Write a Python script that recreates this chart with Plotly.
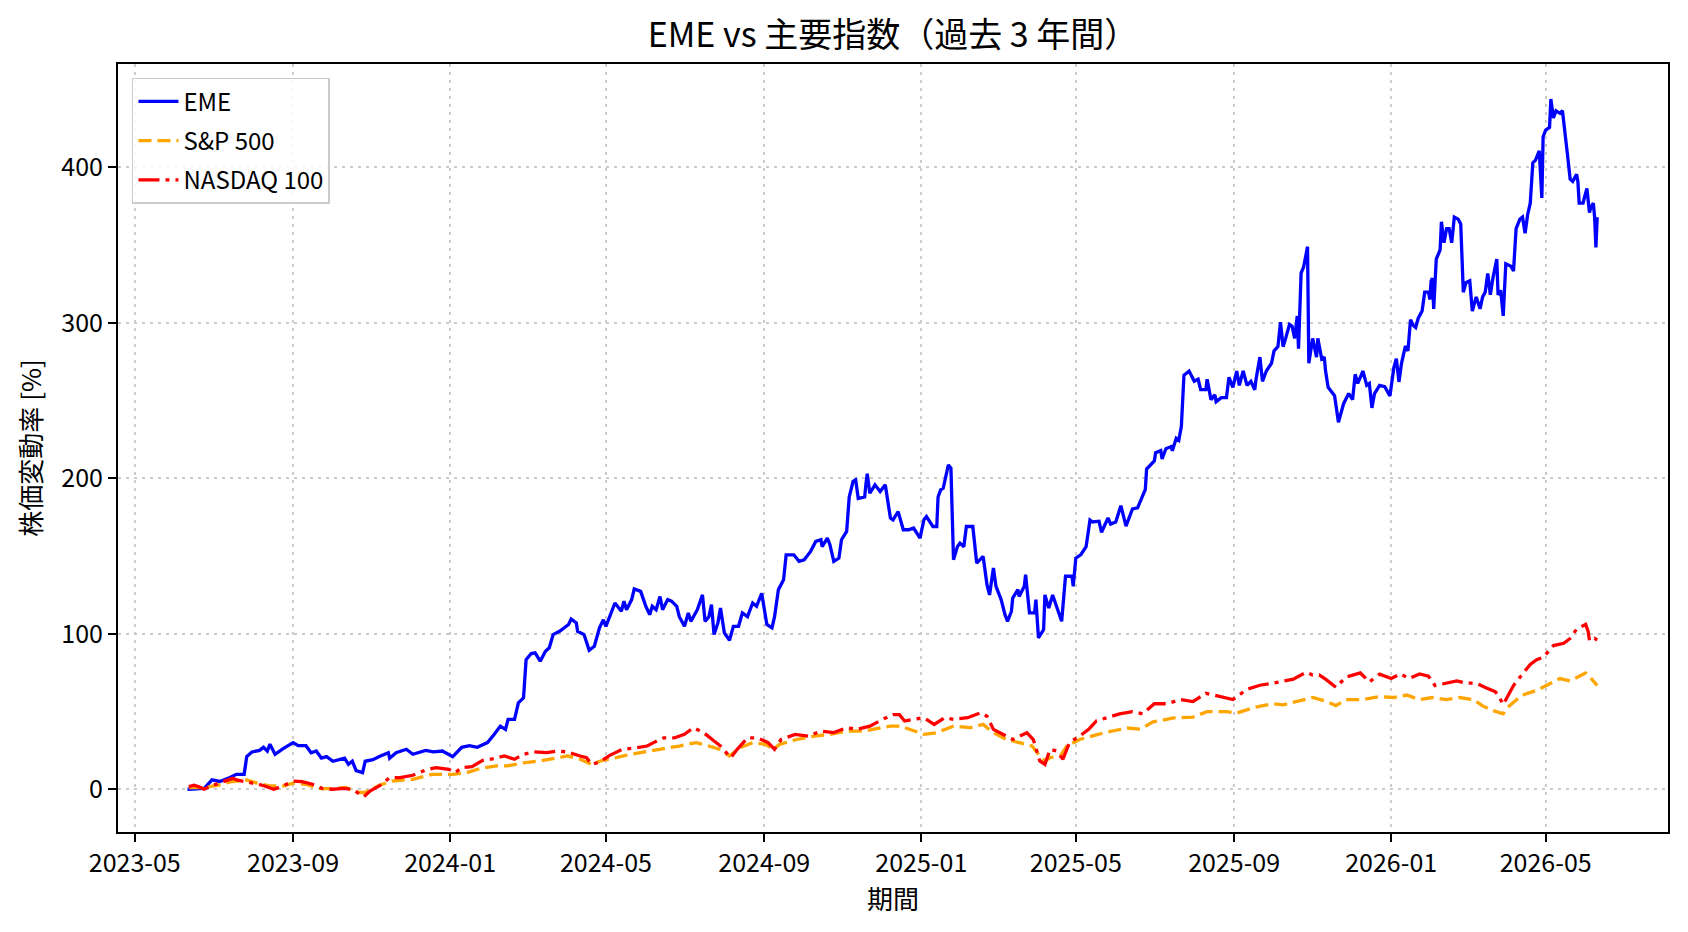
import plotly.graph_objects as go

# ---------------- data ----------------
eme_dates = [
    "2023-06-11", "2023-06-24", "2023-06-30", "2023-07-06", "2023-07-14", "2023-07-19", "2023-07-25", "2023-07-27",
    "2023-07-31", "2023-08-06", "2023-08-09", "2023-08-12", "2023-08-14", "2023-08-18", "2023-08-24", "2023-09-01",
    "2023-09-05", "2023-09-11", "2023-09-15", "2023-09-19", "2023-09-23", "2023-09-27", "2023-10-02", "2023-10-06",
    "2023-10-11", "2023-10-14", "2023-10-17", "2023-10-20", "2023-10-25", "2023-10-27", "2023-11-02", "2023-11-07",
    "2023-11-14", "2023-11-15", "2023-11-20", "2023-11-28", "2023-12-03", "2023-12-13", "2023-12-19", "2023-12-26",
    "2024-01-03", "2024-01-10", "2024-01-16", "2024-01-22", "2024-01-25", "2024-01-30", "2024-02-04", "2024-02-09",
    "2024-02-13", "2024-02-15", "2024-02-20", "2024-02-23", "2024-02-27", "2024-02-29", "2024-03-04", "2024-03-07",
    "2024-03-11", "2024-03-15", "2024-03-18", "2024-03-21", "2024-03-26", "2024-04-02", "2024-04-04", "2024-04-08",
    "2024-04-09", "2024-04-14", "2024-04-18", "2024-04-22", "2024-04-26", "2024-04-29", "2024-05-01", "2024-05-08",
    "2024-05-13", "2024-05-15", "2024-05-17", "2024-05-21", "2024-05-23", "2024-05-28", "2024-06-01", "2024-06-04",
    "2024-06-06", "2024-06-09", "2024-06-12", "2024-06-14", "2024-06-18", "2024-06-21", "2024-06-25", "2024-06-27",
    "2024-07-01", "2024-07-04", "2024-07-06", "2024-07-11", "2024-07-15", "2024-07-17", "2024-07-20", "2024-07-22",
    "2024-07-24", "2024-07-27", "2024-07-29", "2024-08-01", "2024-08-05", "2024-08-08", "2024-08-12", "2024-08-15",
    "2024-08-19", "2024-08-23", "2024-08-26", "2024-08-30", "2024-09-03", "2024-09-07", "2024-09-09", "2024-09-12",
    "2024-09-16", "2024-09-18", "2024-09-24", "2024-09-28", "2024-10-02", "2024-10-07", "2024-10-11", "2024-10-15",
    "2024-10-16", "2024-10-20", "2024-10-22", "2024-10-25", "2024-10-29", "2024-10-31", "2024-11-04", "2024-11-06",
    "2024-11-09", "2024-11-11", "2024-11-13", "2024-11-18", "2024-11-19", "2024-11-20", "2024-11-22", "2024-11-26",
    "2024-11-30", "2024-12-04", "2024-12-08", "2024-12-10", "2024-12-14", "2024-12-18", "2024-12-22", "2024-12-26",
    "2024-12-31", "2025-01-03", "2025-01-05", "2025-01-10", "2025-01-13", "2025-01-14", "2025-01-16", "2025-01-18",
    "2025-01-22", "2025-01-24", "2025-01-26", "2025-01-29", "2025-01-31", "2025-02-03", "2025-02-05", "2025-02-10",
    "2025-02-13", "2025-02-18", "2025-02-21", "2025-02-23", "2025-02-26", "2025-02-28", "2025-03-04", "2025-03-07",
    "2025-03-09", "2025-03-12", "2025-03-13", "2025-03-17", "2025-03-18", "2025-03-22", "2025-03-23", "2025-03-26",
    "2025-03-30", "2025-03-31", "2025-04-02", "2025-04-06", "2025-04-07", "2025-04-10", "2025-04-13", "2025-04-16",
    "2025-04-20", "2025-04-23", "2025-04-28", "2025-04-29", "2025-05-01", "2025-05-05", "2025-05-09", "2025-05-12",
    "2025-05-14", "2025-05-19", "2025-05-21", "2025-05-26", "2025-05-28", "2025-06-01", "2025-06-05", "2025-06-09",
    "2025-06-14", "2025-06-18", "2025-06-22", "2025-06-24", "2025-06-25", "2025-06-28", "2025-07-01", "2025-07-02",
    "2025-07-06", "2025-07-07", "2025-07-10", "2025-07-14", "2025-07-15", "2025-07-18", "2025-07-20", "2025-07-22",
    "2025-07-24", "2025-07-28", "2025-08-01", "2025-08-04", "2025-08-06", "2025-08-10", "2025-08-11", "2025-08-14",
    "2025-08-17", "2025-08-18", "2025-08-22", "2025-08-26", "2025-08-28", "2025-08-31", "2025-09-03", "2025-09-05",
    "2025-09-08", "2025-09-11", "2025-09-14", "2025-09-17", "2025-09-18", "2025-09-21", "2025-09-23", "2025-09-26",
    "2025-09-30", "2025-10-02", "2025-10-05", "2025-10-07", "2025-10-09", "2025-10-11", "2025-10-14", "2025-10-16",
    "2025-10-18", "2025-10-20", "2025-10-21", "2025-10-23", "2025-10-25", "2025-10-28", "2025-10-29", "2025-11-01",
    "2025-11-04", "2025-11-05", "2025-11-08", "2025-11-10", "2025-11-11", "2025-11-13", "2025-11-17", "2025-11-18",
    "2025-11-21", "2025-11-25", "2025-11-29", "2025-12-02", "2025-12-04", "2025-12-06", "2025-12-10", "2025-12-13",
    "2025-12-15", "2025-12-17", "2025-12-19", "2025-12-23", "2025-12-27", "2025-12-31", "2026-01-03", "2026-01-05",
    "2026-01-07", "2026-01-09", "2026-01-12", "2026-01-14", "2026-01-16", "2026-01-18", "2026-01-20", "2026-01-22",
    "2026-01-25", "2026-01-27", "2026-01-30", "2026-01-31", "2026-02-01", "2026-02-02", "2026-02-03", "2026-02-05",
    "2026-02-08", "2026-02-09", "2026-02-11", "2026-02-13", "2026-02-15", "2026-02-17", "2026-02-19", "2026-02-22",
    "2026-02-24", "2026-02-26", "2026-02-28", "2026-03-03", "2026-03-05", "2026-03-08", "2026-03-11", "2026-03-13",
    "2026-03-15", "2026-03-17", "2026-03-19", "2026-03-21", "2026-03-24", "2026-03-25", "2026-03-27", "2026-03-29",
    "2026-03-31", "2026-04-04", "2026-04-06", "2026-04-08", "2026-04-11", "2026-04-13", "2026-04-15", "2026-04-17",
    "2026-04-19", "2026-04-21", "2026-04-23", "2026-04-26", "2026-04-28", "2026-04-29", "2026-05-01", "2026-05-04",
    "2026-05-05", "2026-05-07", "2026-05-09", "2026-05-12", "2026-05-14", "2026-05-16", "2026-05-18", "2026-05-20",
    "2026-05-22", "2026-05-25", "2026-05-26", "2026-05-27", "2026-05-30", "2026-05-31", "2026-06-02", "2026-06-04",
    "2026-06-05", "2026-06-07", "2026-06-08", "2026-06-09", "2026-06-10",
]
eme_values = [
    0, 0.5, 6, 5, 7.5, 9.6, 9.6, 21,
    24, 25, 27, 24.6, 29, 22.5, 26, 30,
    28, 28, 23.5, 24.6, 20, 21, 18, 19,
    20, 16, 18, 12, 10.7, 18, 19, 21,
    23.5, 20, 23.5, 25.7, 22.5, 25, 24, 24.6,
    21, 27, 28, 27, 28, 30, 35, 40.6,
    38.5, 45, 45, 55.6, 58.8, 83.4, 87.3, 87.7,
    82.4, 88.8, 91, 99.5, 101.6, 106, 109.5, 107,
    101.6, 99.5, 89.4, 92, 103.8, 109, 104.8, 119.8,
    114.5, 121, 115.5, 122, 128.8, 127.3, 117.7, 112.3,
    117.7, 115.5, 124, 115.5, 122, 121, 117.7, 111,
    104.8, 113.4, 108, 115.5, 125, 108, 111, 118.7,
    99.5, 107, 116.6, 100.6, 95.8, 104.8, 104.8, 113.4,
    111, 119.8, 117.7, 126, 106, 103.8, 111, 128.4,
    134.8, 150.8, 150.8, 146.6, 147.6, 153, 159.4, 160.5,
    156, 161.5, 157.3, 146.6, 148.7, 160.5, 165.8, 188,
    198, 199, 187, 188, 196.6, 203, 190.4, 195.8,
    191.5, 195.8, 174.4, 173.3, 178.6, 166.9, 166.9, 168,
    161.5, 173.3, 175.4, 169, 169, 188, 192.6, 193.6,
    208.6, 206.5, 147.6, 156, 158.3, 156, 169, 169,
    145.5, 149.8, 131.6, 125, 142.3, 130.5, 122, 112.3,
    108, 114.5, 123, 128.4, 124, 130.5, 138, 113.4,
    113.4, 122, 97.3, 102.7, 125, 116.6, 125, 117.7,
    108, 137, 137, 130.5, 148.7, 151, 156, 173.2,
    171.9, 172.4, 165.3, 174.5, 170.6, 171.9, 182.4, 169.2,
    180.3, 181, 189, 192.9, 206, 208.6, 211.2, 216.5,
    217.8, 212.5, 219, 220.4, 217.8, 225.7, 224.4, 233.5,
    266.3, 269, 262.4, 263.7, 257, 257, 263.7, 250.6,
    253.7, 249.3, 251.9, 251.9, 265, 258.5, 269, 259.8,
    269, 259.8, 262.4, 257, 263.7, 278, 262.4, 269,
    274, 282, 284.7, 300.4, 284.7, 290, 299, 297.8,
    290, 304.4, 283.4, 332, 336, 349, 274, 290,
    278, 290, 276.8, 278, 269, 258.5, 254.5, 253.2,
    236, 248, 254.5, 250.6, 266.9, 261, 269, 259.8,
    261, 245.3, 254.5, 259.8, 259, 253, 271, 277,
    262, 274, 285, 282, 302, 298.5, 297, 303,
    307.6, 319.7, 319.7, 315, 327, 328.8, 309, 341,
    347, 365, 351.5, 360.6, 360.6, 351.5, 368, 366.7,
    363.6, 319.7, 325.8, 327, 307.6, 316.7, 309, 316.7,
    319.7, 331.8, 318, 328.8, 341, 318, 321, 304.5,
    338, 336.4, 333.3, 360.6, 366.7, 368, 357.6, 369.7,
    377, 403, 404.5, 410.6, 380.3, 419.7, 424, 425.8,
    444, 431.8, 436.4, 434.8, 436.4, 419.7, 407.6, 392.4,
    391, 395.5, 391, 377, 377, 380.3, 386.4, 371,
    374, 377, 368, 348.5, 368,
]

spx_dates = [
    "2023-06-12", "2023-06-21", "2023-06-28", "2023-07-05", "2023-07-14", "2023-07-27", "2023-08-04", "2023-08-14",
    "2023-08-24", "2023-09-01", "2023-09-11", "2023-09-21", "2023-10-02", "2023-10-12", "2023-10-22", "2023-10-27",
    "2023-11-07", "2023-11-17", "2023-12-03", "2023-12-18", "2024-01-03", "2024-01-14", "2024-01-24", "2024-02-06",
    "2024-02-14", "2024-02-27", "2024-03-11", "2024-03-21", "2024-04-01", "2024-04-11", "2024-04-20", "2024-04-29",
    "2024-05-09", "2024-05-20", "2024-06-01", "2024-06-14", "2024-06-27", "2024-07-10", "2024-07-20", "2024-07-28",
    "2024-08-05", "2024-08-13", "2024-08-23", "2024-09-02", "2024-09-08", "2024-09-13", "2024-09-26", "2024-10-10",
    "2024-10-22", "2024-11-04", "2024-11-17", "2024-11-30", "2024-12-08", "2024-12-16", "2024-12-26", "2025-01-03",
    "2025-01-13", "2025-01-26", "2025-02-08", "2025-02-18", "2025-02-26", "2025-03-08", "2025-03-18", "2025-03-28",
    "2025-04-03", "2025-04-07", "2025-04-11", "2025-04-19", "2025-04-24", "2025-05-04", "2025-05-17", "2025-05-25",
    "2025-06-10", "2025-06-20", "2025-06-30", "2025-07-16", "2025-07-31", "2025-08-11", "2025-08-26", "2025-09-03",
    "2025-09-16", "2025-10-01", "2025-10-09", "2025-10-19", "2025-11-01", "2025-11-12", "2025-11-19", "2025-11-27",
    "2025-12-10", "2025-12-23", "2026-01-03", "2026-01-13", "2026-01-23", "2026-02-02", "2026-02-13", "2026-02-23",
    "2026-03-06", "2026-03-13", "2026-03-21", "2026-03-29", "2026-03-31", "2026-04-06", "2026-04-13", "2026-04-24",
    "2026-05-01", "2026-05-12", "2026-05-20", "2026-05-27", "2026-06-01", "2026-06-07", "2026-06-10",
]
spx_values = [
    1, 1, 1.7, 2.6, 4.7, 6, 3.9, 2.1,
    2.1, 3.9, 3.2, 0.4, 0.4, 1.1, -2.1, -2.1,
    2.6, 5.3, 6.4, 9.6, 9.6, 10.7, 13.3, 15,
    15, 17, 18.2, 19.7, 21.4, 19.3, 16, 18.8,
    20.3, 22.5, 24, 26, 27.8, 30, 27.8, 25.7,
    21.4, 26.7, 30, 28.9, 25.7, 28.9, 32, 34.2,
    35.3, 37.4, 37.4, 39.6, 40.6, 40.6, 37.4, 35.3,
    36.4, 40.6, 39.6, 41.7, 36.4, 32, 30, 27.8,
    21.4, 18, 20.3, 21.4, 27.8, 32, 35, 36.7,
    39.4, 38.6, 43.3, 45.9, 46.4, 49.9, 49.9, 49,
    52.5, 55, 54.3, 56.4, 59, 56.4, 53.8, 57.7,
    57.7, 59.6, 59, 60.6, 57.6, 59, 57.6, 59,
    57.6, 53.6, 50.6, 48.5, 51.5, 56, 60.6, 63.6,
    66.7, 71.2, 69.7, 72.7, 74.8, 69.7, 66.7,
]

ndx_dates = [
    "2023-06-12", "2023-06-16", "2023-06-20", "2023-06-24", "2023-06-29", "2023-07-07", "2023-07-13", "2023-07-16",
    "2023-07-20", "2023-07-28", "2023-08-05", "2023-08-10", "2023-08-17", "2023-08-24", "2023-09-01", "2023-09-08",
    "2023-09-16", "2023-09-24", "2023-10-02", "2023-10-10", "2023-10-17", "2023-10-23", "2023-10-26", "2023-10-31",
    "2023-11-07", "2023-11-15", "2023-11-23", "2023-12-03", "2023-12-13", "2023-12-21", "2023-12-31", "2024-01-05",
    "2024-01-10", "2024-01-18", "2024-01-26", "2024-02-04", "2024-02-12", "2024-02-20", "2024-02-27", "2024-03-06",
    "2024-03-16", "2024-03-24", "2024-04-01", "2024-04-11", "2024-04-16", "2024-04-20", "2024-04-26", "2024-05-04",
    "2024-05-14", "2024-05-25", "2024-06-02", "2024-06-07", "2024-06-15", "2024-06-23", "2024-07-01", "2024-07-08",
    "2024-07-11", "2024-07-16", "2024-07-24", "2024-07-29", "2024-08-06", "2024-08-11", "2024-08-19", "2024-08-27",
    "2024-09-04", "2024-09-09", "2024-09-14", "2024-09-25", "2024-10-05", "2024-10-15", "2024-10-25", "2024-11-04",
    "2024-11-12", "2024-11-22", "2024-12-02", "2024-12-10", "2024-12-15", "2024-12-19", "2024-12-26", "2025-01-03",
    "2025-01-11", "2025-01-19", "2025-01-26", "2025-02-06", "2025-02-16", "2025-02-21", "2025-02-26", "2025-03-06",
    "2025-03-13", "2025-03-24", "2025-03-29", "2025-04-03", "2025-04-07", "2025-04-11", "2025-04-16", "2025-04-21",
    "2025-04-26", "2025-05-04", "2025-05-11", "2025-05-17", "2025-05-25", "2025-06-04", "2025-06-14", "2025-06-22",
    "2025-07-01", "2025-07-11", "2025-07-21", "2025-07-31", "2025-08-10", "2025-08-21", "2025-08-31", "2025-09-11",
    "2025-09-21", "2025-10-01", "2025-10-09", "2025-10-17", "2025-10-27", "2025-11-01", "2025-11-06", "2025-11-11",
    "2025-11-19", "2025-11-27", "2025-12-08", "2025-12-15", "2025-12-23", "2026-01-01", "2026-01-08", "2026-01-15",
    "2026-01-23", "2026-01-30", "2026-02-04", "2026-02-13", "2026-02-21", "2026-02-28", "2026-03-08", "2026-03-16",
    "2026-03-23", "2026-03-26", "2026-03-29", "2026-04-02", "2026-04-06", "2026-04-13", "2026-04-19", "2026-04-24",
    "2026-04-29", "2026-05-07", "2026-05-15", "2026-05-20", "2026-05-25", "2026-06-01", "2026-06-03", "2026-06-04",
    "2026-06-08", "2026-06-10",
]
ndx_values = [
    1.7, 2.6, 1.5, 0, 2, 4.3, 6.4, 7,
    5.8, 4.7, 3.2, 2.1, 0, 2.1, 5.3, 4.9,
    3.2, 0.4, 0, 0.6, 0, -3.2, -4.7, -1,
    2.1, 7.5, 7.5, 9, 12.4, 13.9, 12.8, 10.7,
    13.9, 14.5, 18.5, 19.7, 21.4, 19.3, 22.5, 24,
    23.5, 24.6, 24, 21.4, 20.3, 16, 17.5, 21.8,
    25.7, 26.7, 27.8, 30, 33, 33, 35.3, 39.6,
    38.5, 36.4, 31, 27.8, 20.3, 25.7, 33, 33,
    30, 25.7, 32, 35.3, 34.2, 37.4, 36.4, 39.6,
    38.5, 40.6, 45, 48, 48, 43.9, 45, 46,
    41.7, 46, 45, 46, 49.2, 47, 38.5, 35.3,
    32, 36.4, 32, 18.2, 16, 25.7, 24.6, 19.3,
    30, 34.2, 38.5, 44, 45.9, 48.5, 49.9, 48.5,
    55, 55, 57.7, 56.4, 61.7, 59.6, 57.7, 64.3,
    66.9, 68.2, 69.5, 70.8, 75.3, 73.5, 73.5, 70.8,
    65.6, 72.2, 74.8, 69, 74, 71.2, 74.2, 71.2,
    74.2, 72.7, 66.7, 68.2, 69.7, 68.2, 68.2, 65.2,
    62.7, 59.1, 54.5, 60.6, 66.7, 74.2, 80.3, 83.3,
    84.8, 92.4, 93.9, 97, 103, 106, 101.5, 95.5,
    97, 96,
]

series_names = ["EME", "S&P 500", "NASDAQ 100"]
tick_labels = ["2023-05", "2023-09", "2024-01", "2024-05", "2024-09",
               "2025-01", "2025-05", "2025-09", "2026-01", "2026-05"]
y_ticks = [0, 100, 200, 300, 400]

title_text = "EME vs 主要指数（過去 3 年間）"
x_title = "期間"
y_title = "株価変動率 [%]"

# ---------------- figure ----------------
FONT = "Noto Sans CJK JP"
W, H = 1688, 932

fig = go.Figure()
fig.add_trace(go.Scatter(x=eme_dates, y=eme_values, name=series_names[0], mode="lines",
                         legendgroup="g1",
                         line=dict(color="#0000ff", width=3.3)))
fig.add_trace(go.Scatter(x=spx_dates, y=spx_values, name=series_names[1], mode="lines",
                         legendgroup="g2",
                         line=dict(color="#ffa500", width=3.3, dash="13px,6px")))
fig.add_trace(go.Scatter(x=ndx_dates, y=ndx_values, name=series_names[2], mode="lines",
                         legendgroup="g3",
                         line=dict(color="#ff0000", width=3.3, dash="21px,6px,4px,6px")))

axis_common = dict(
    showline=True, linecolor="black", linewidth=2, mirror=True,
    ticks="outside", ticklen=8, tickwidth=2, tickcolor="black",
    showgrid=True, gridcolor="#cccccc", gridwidth=1.5, griddash="3px,5px",
    zeroline=False, tickfont=dict(family=FONT, size=25, color="black"),
)

fig.update_xaxes(
    type="date", range=["2023-04-18", "2026-08-04"],
    tickvals=[t + "-01" for t in tick_labels], ticktext=tick_labels,
    title=dict(text=x_title, font=dict(family=FONT, size=26, color="black"), standoff=6),
    **axis_common,
)
fig.update_yaxes(
    range=[-27.5, 466.5], tickvals=y_ticks, ticktext=[str(v) for v in y_ticks],
    title=dict(text=y_title, font=dict(family=FONT, size=26, color="black"), standoff=12),
    **axis_common,
)

fig.update_layout(
    width=W, height=H,
    margin=dict(l=118, r=20, t=64, b=100),
    paper_bgcolor="white", plot_bgcolor="white",
    title=dict(text=title_text, x=0.5, xref="paper", xanchor="center",
               y=0.962, yref="container", yanchor="middle",
               font=dict(family=FONT, size=34, color="black")),
    legend=dict(x=0.009, y=0.982, xanchor="left", yanchor="top",
                bgcolor="rgba(255,255,255,0.85)", bordercolor="#cccccc", borderwidth=1.5,
                font=dict(family=FONT, size=24, color="black"),
                tracegroupgap=5, itemwidth=40),
    font=dict(family=FONT, color="black"),
    showlegend=True,
)

fig.write_html("out.html")
